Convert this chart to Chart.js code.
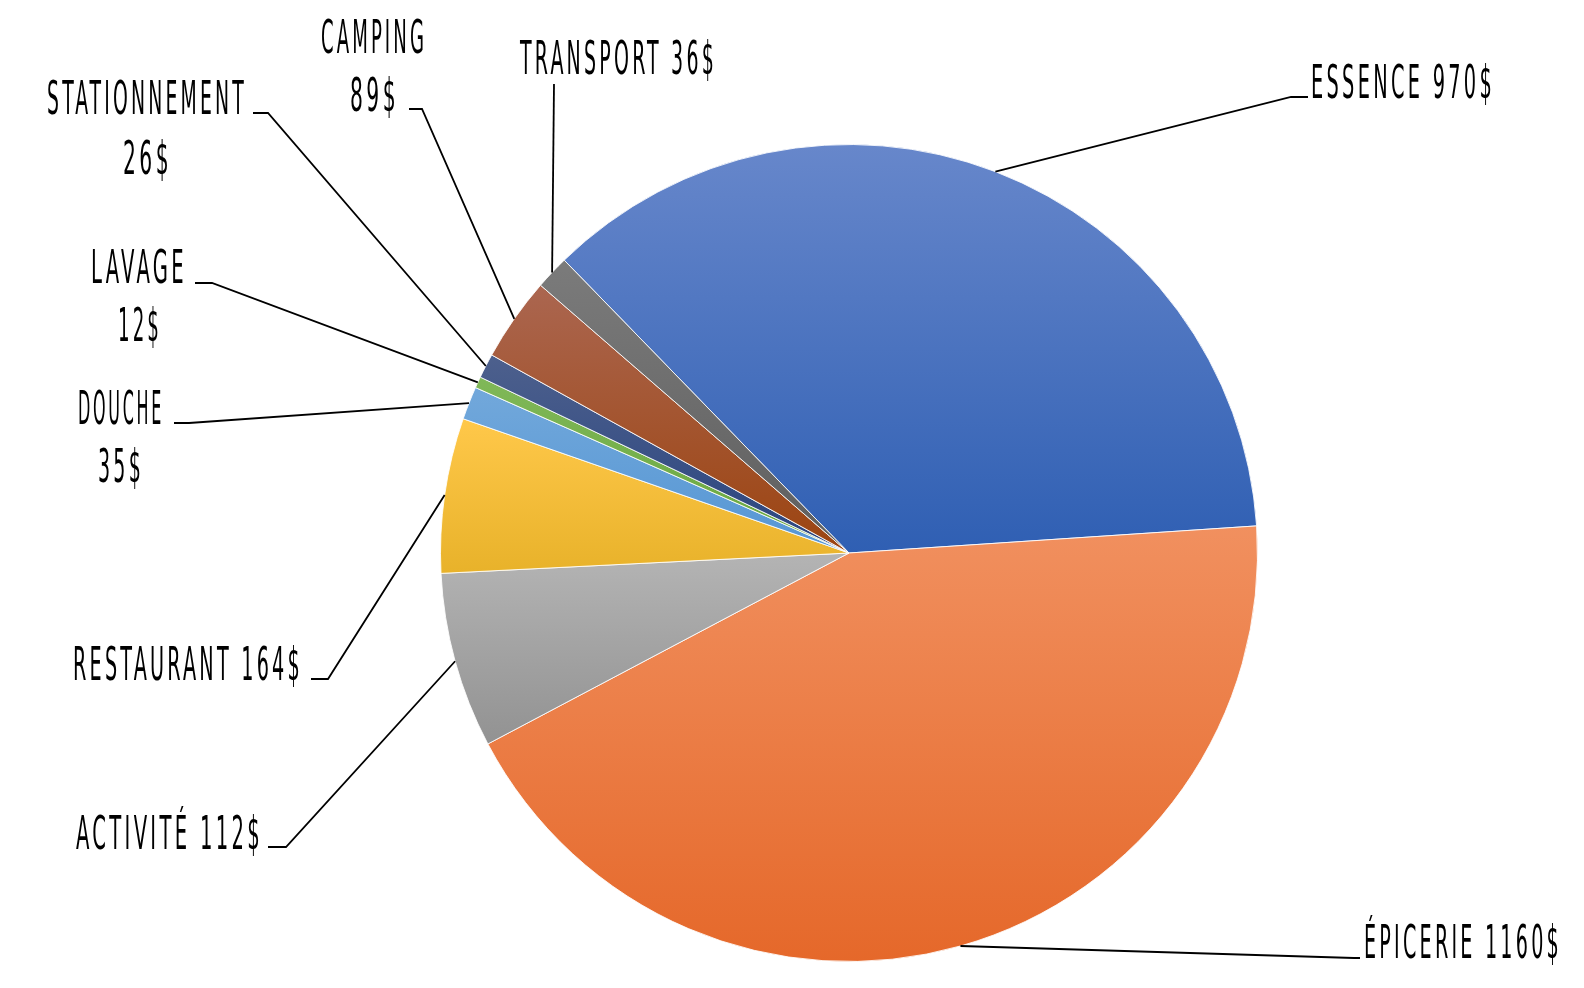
<!DOCTYPE html>
<html lang="fr">
<head>
<meta charset="utf-8">
<title>Dépenses</title>
<script src="https://cdn.jsdelivr.net/npm/chart.js@4.4.1/dist/chart.umd.min.js"></script>
<style>
    html, body { margin: 0; padding: 0; background: #ffffff; }
    #wrap { width: 1584px; height: 988px; position: relative; }
</style>
</head>
<body>
<div id="wrap"><canvas id="pie"></canvas></div>
<script>
// données
const categories = ["Essence", "Épicerie", "Activité", "Restaurant", "Douche", "Lavage", "Stationnement", "Camping", "Transport"];
// la part "Activité" est dessinée plus grosse que son étiquette (≈186 d'après l'angle)
const amounts = [970, 1160, 186, 164, 35, 12, 26, 89, 36];
// texte des étiquettes tel qu'affiché
const labelLines = [
    ["ESSENCE 970$"],
    ["ÉPICERIE 1160$"],
    ["ACTIVITÉ 112$"],
    ["RESTAURANT 164$"],
    ["DOUCHE", "35$"],
    ["LAVAGE", "12$"],
    ["STATIONNEMENT", "26$"],
    ["CAMPING", "89$"],
    ["TRANSPORT 36$"],
];

// couleurs (haut -> bas du dégradé de chaque part)
const sliceColors = [
    ["#6787cb", "#2f5fb3"],
    ["#f1905f", "#e5682a"],
    ["#b4b4b4", "#929292"],
    ["#ffc84a", "#e8b22a"],
    ["#72a8db", "#5596d4"],
    ["#80b858", "#68a63e"],
    ["#4d608d", "#29447f"],
    ["#ab6650", "#9c4410"],
    ["#7b7b7b", "#5e5e5e"],
];

// placement des étiquettes : coude, fin du trait, lignes de texte [x, ligne de base, largeur]
const labelLayout = [
    { elbow: [1291, 97], end: [1308, 97], text: [[1311, 98, 184]] },
    { elbow: [1354, 958], end: [1360, 958], text: [[1364, 958, 198]] },
    { elbow: [286, 847], end: [268, 847], text: [[76, 849, 187]] },
    { elbow: [328, 679], end: [311, 679], text: [[73, 680, 230]] },
    { elbow: [189, 423], end: [174, 423], text: [[78, 424, 86], [98, 482, 46]] },
    { elbow: [212, 283], end: [195, 283], text: [[91, 283, 96], [118, 341, 44]] },
    { elbow: [268, 113], end: [253, 113], text: [[47, 114, 200], [123, 174, 49]] },
    { elbow: [422, 109], end: [409, 109], text: [[321, 53, 106], [350, 111, 49]] },
    { elbow: [554, 84], end: [554, 84], text: [[520, 74, 197]] },
];

const TWO_PI = Math.PI * 2;

// dégradé vertical sur la boîte englobante de chaque part
function sliceFill(context) {
    const i = context.dataIndex;
    const [top, bottom] = sliceColors[i];
    const arc = context.chart.getDatasetMeta(0).data[i];
    if (!arc || !arc.outerRadius) return top;
    const { x, y, startAngle, endAngle, outerRadius } = arc;
    const span = endAngle - startAngle;
    const inside = (a) => {
        let d = (a - startAngle) % TWO_PI;
        if (d < 0) d += TWO_PI;
        return d <= span;
    };
    const ys = [y, y + Math.sin(startAngle) * outerRadius, y + Math.sin(endAngle) * outerRadius];
    if (inside(-Math.PI / 2)) ys.push(y - outerRadius);
    if (inside(Math.PI / 2)) ys.push(y + outerRadius);
    const g = context.chart.ctx.createLinearGradient(0, Math.min(...ys), 0, Math.max(...ys));
    g.addColorStop(0, top);
    g.addColorStop(1, bottom);
    return g;
}

// étiquettes extérieures avec traits de rappel
const leaderLabels = {
    id: "leaderLabels",
    afterDatasetsDraw(chart) {
        const ctx = chart.ctx;
        const arcs = chart.getDatasetMeta(0).data;
        ctx.save();
        ctx.strokeStyle = "#000000";
        ctx.lineWidth = 1.8;
        ctx.fillStyle = "#000000";
        ctx.font = "46px 'DejaVu Sans Condensed', 'Liberation Sans Narrow', 'DejaVu Sans', sans-serif";
        ctx.letterSpacing = "7px";
        ctx.textAlign = "left";
        ctx.textBaseline = "alphabetic";
        arcs.forEach((arc, i) => {
            const lay = labelLayout[i];
            const mid = (arc.startAngle + arc.endAngle) / 2;
            const ax = arc.x + Math.cos(mid) * arc.outerRadius;
            const ay = arc.y + Math.sin(mid) * arc.outerRadius;
            ctx.beginPath();
            ctx.moveTo(ax, ay);
            ctx.lineTo(lay.elbow[0], lay.elbow[1]);
            ctx.lineTo(lay.end[0], lay.end[1]);
            ctx.stroke();
            labelLines[i].forEach((line, j) => {
                const [tx, ty, tw] = lay.text[j];
                ctx.fillText(line, tx, ty, tw);
            });
        });
        ctx.restore();
    },
};

const chart = new Chart(document.getElementById("pie"), {
    type: "pie",
    data: {
        labels: categories,
        datasets: [
            {
                data: amounts,
                backgroundColor: sliceFill,
                borderColor: "rgba(255, 255, 255, 0.85)",
                borderWidth: 1,
            },
        ],
    },
    options: {
        responsive: true,
        maintainAspectRatio: false,
        animation: false,
        rotation: -44.2,
        layout: { padding: { left: 440, right: 326, top: 144, bottom: 26 } },
        plugins: {
            legend: { display: false },
            tooltip: { enabled: false },
        },
    },
    plugins: [leaderLabels],
});
// second passage : les parts ont leur géométrie, le dégradé peut être calculé
chart.update();
</script>
</body>
</html>
